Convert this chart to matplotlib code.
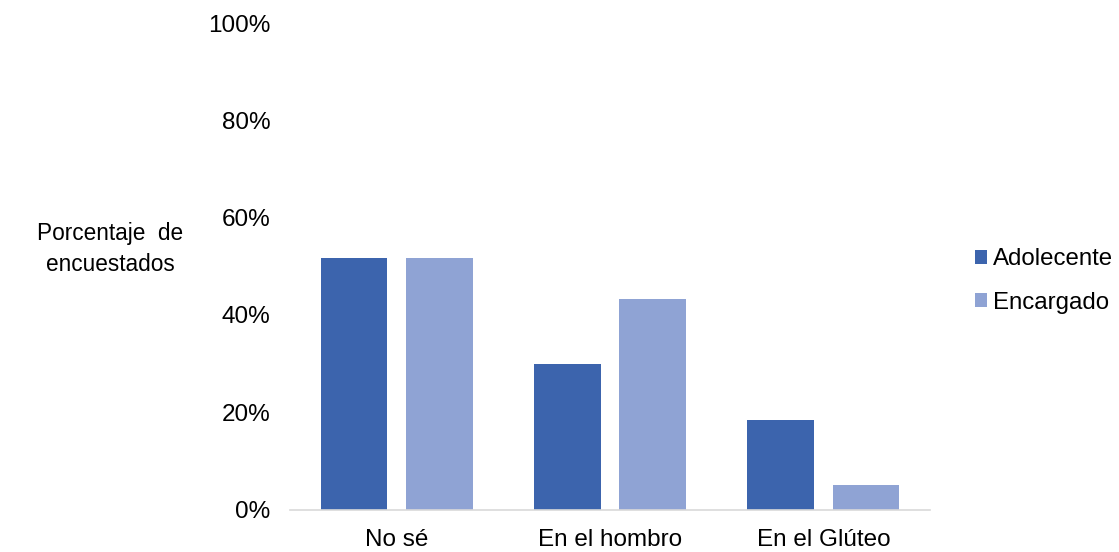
import matplotlib
matplotlib.use("Agg")
import matplotlib.pyplot as plt
import numpy as np

categories = ["No sé", "En el hombro", "En el Glúteo"]
adolecente = [31/60, 18/60, 11/60]
encargado = [31/60, 26/60, 3/60]
series_names = ["Adolecente", "Encargado"]
colors = ["#3c64ad", "#8fa3d4"]
yticks = [0, 0.2, 0.4, 0.6, 0.8, 1.0]
ytick_labels = ["0%", "20%", "40%", "60%", "80%", "100%"]

plt.rcParams['font.family'] = ['Liberation Sans', 'DejaVu Sans']

fig = plt.figure(figsize=(11.19, 5.52), dpi=100)
ax = fig.add_axes([290/1119, 1-509.5/552, 640/1119, (509.5-23)/552])

x = np.arange(len(categories))
w = 0.314
off = 0.2
ax.bar(x - off, adolecente, width=w, color=colors[0], label=series_names[0])
ax.bar(x + off, encargado, width=w, color=colors[1], label=series_names[1])

ax.set_xlim(-0.5, 2.5)
ax.set_ylim(0, 1)
ax.set_yticks(yticks)
ax.set_yticklabels(ytick_labels)
ax.set_xticks(x)
ax.set_xticklabels(categories)
ax.tick_params(axis='both', length=0, labelsize=17.5, colors='#000000')
ax.tick_params(axis='y', pad=14)
ax.tick_params(axis='x', pad=14)
for s in ['top', 'right', 'left']:
    ax.spines[s].set_visible(False)
ax.spines['bottom'].set_color('#d9d9d9')
ax.spines['bottom'].set_linewidth(1.2)

fig.text(110/1119, 1-249/552, "Porcentaje  de\nencuestados", ha='center', va='center',
         fontsize=16.3, linespacing=1.45)

leg = ax.legend(loc='center left', bbox_to_anchor=(975/1119, 1-281/552),
                bbox_transform=fig.transFigure, frameon=False, fontsize=17.3,
                handlelength=0.5, handleheight=0.5, handletextpad=0.25,
                labelspacing=0.88, borderaxespad=0, borderpad=0)

fig.savefig("out.png", dpi=100)
